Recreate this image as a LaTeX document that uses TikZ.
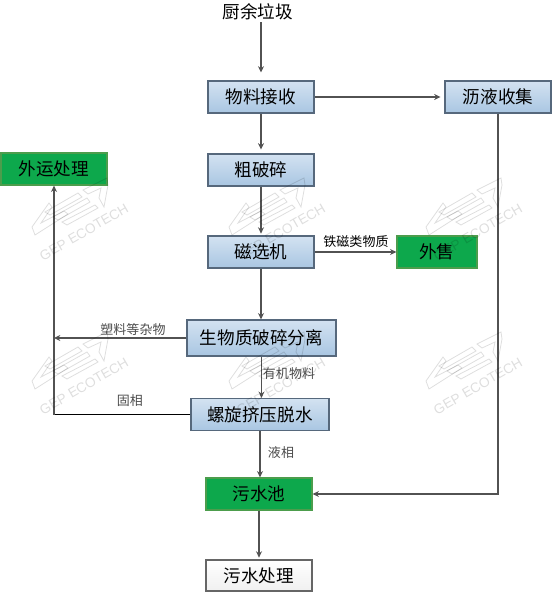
\documentclass[tikz,border=0pt]{standalone}
\usepackage{fontspec}
\setmainfont{Noto Sans CJK SC}
\newfontfamily\markfont{Liberation Sans}
\usetikzlibrary{arrows.meta,shadows}

\begin{document}
\begin{tikzpicture}[
  x=2cm,y=2cm,
  line cap=butt,line join=miter,
  flow/.style={line width=0.65pt,draw=black!68,-{Stealth[length=3.6pt,width=3.4pt]}},
  box/.style={draw=blueEdge,line width=0.7pt,inner sep=0pt,
    minimum width=2.12cm,minimum height=0.64cm,font=\fontsize{10}{12}\selectfont,
    drop shadow={shadow xshift=0.4pt,shadow yshift=-0.4pt,opacity=0.35}},
  bluebox/.style={box,top color=blueTop,bottom color=blueBot},
  greenbox/.style={box,draw=black!55!green!70,fill=greenFill},
  whitebox/.style={box,draw=black!60,top color=white,bottom color=black!6},
  note/.style={font=\fontsize{7.4}{9}\selectfont,text=black!70},
  stampline/.style={line width=0.45pt,draw=black,opacity=0.13}
]
  \definecolor{blueTop}{HTML}{D3E2F1}
  \definecolor{blueBot}{HTML}{A9C6E2}
  \definecolor{blueEdge}{HTML}{56687C}
  \definecolor{greenFill}{HTML}{0DA84C}
  \useasboundingbox (0,0) rectangle (5.54,5.94);

  % Process boxes
  \node[font=\fontsize{10}{12}\selectfont,inner sep=0pt] (source) at (2.58,5.82) {厨余垃圾};
  \node[bluebox] (receive) at (2.61,4.97) {物料接收};
  \node[bluebox] (crush) at (2.61,4.24) {粗破碎};
  \node[bluebox] (magnet) at (2.61,3.42) {磁选机};
  \node[bluebox] (leachate) at (4.98,4.97) {沥液收集};
  \node[greenbox] (haul) at (0.54,4.25) {外运处理};
  \node[greenbox,minimum width=1.6cm] (sale) at (4.37,3.42) {外售};
  \node[bluebox,minimum width=2.98cm,minimum height=0.72cm] (separate) at (2.615,2.56) {生物质破碎分离};
  \node[bluebox,minimum width=2.76cm] (dewater) at (2.60,1.795) {螺旋挤压脱水};
  \node[greenbox] (pool) at (2.59,1.00) {污水池};
  \node[whitebox,minimum height=0.62cm] (treat) at (2.59,0.185) {污水处理};

  % Main line
  \draw[flow,shorten <=1pt,shorten >=4.5pt] (source.south -| receive.north) -- (receive.north);
  \draw[flow,shorten >=2.2pt] (receive) -- (crush);
  \draw[flow,shorten >=1pt] (crush) -- (magnet);
  \draw[flow] (magnet.south) -- (magnet.south |- separate.north);
  \draw[flow] (separate.south) -- (separate.south |- dewater.north);
  \draw[flow] (dewater.south) -- (dewater.south |- pool.north);
  \draw[flow,shorten >=1pt] (pool) -- (treat);

  % Side streams
  \draw[flow,shorten >=2.2pt] (receive) -- (leachate);
  \draw[flow] (magnet) -- (sale);
  \draw[flow] (leachate.south) |- (pool.east);
  \coordinate (corner) at (dewater.west -| haul.south);
  \draw[line width=0.65pt] (dewater.west) -- (corner);
  \draw[flow,line width=0.9pt] (corner) -- (haul.south);
  \draw[flow] (separate.west) -- (separate.west -| haul.south);

  % Labels
  \node[note] (plastic) at (1.33,2.64) {塑料等杂物};
  \node[note] (organic) at (2.89,2.20) {有机物料};
  \node[note] (solid) at (1.30,1.93) {固相};
  \node[note] (liquid) at (2.81,1.41) {液相};
  \node[note,text=black] (iron) at (3.56,3.52) {铁磁类物质};

  % Watermark
  \foreach \px/\py in {0.84/3.62,2.81/3.62,4.78/3.62,0.84/2.08,2.81/2.08,4.78/2.08}{
    \begin{scope}[shift={(\px,\py)}]
      \draw[stampline] (-0.52,0.05) -- (-0.35,0.29) -- (-0.32,0.25) -- (-0.43,0.09)
        -- (-0.20,0.21) -- (-0.16,0.18) -- (-0.49,-0.03) -- cycle;
      \draw[stampline] (-0.39,0.20) -- (-0.06,0.39) -- (-0.02,0.35) -- (-0.34,0.17) -- cycle;
      \draw[stampline] (-0.31,0.15) -- (0.03,0.34) -- (0.06,0.30) -- (-0.26,0.12) -- cycle;
      \draw[stampline] (-0.22,0.10) -- (0.11,0.27) -- (0.14,0.24) -- (-0.17,0.07) -- cycle;
      \draw[stampline] (-0.01,0.42) -- (0.23,0.54) -- (0.24,0.47) -- (0.20,0.25)
        -- (0.15,0.34) -- (0.17,0.44) -- (0.04,0.38) -- cycle;
      \node[rotate=30,text=black,opacity=0.13,font=\markfont\fontsize{7.8}{10}\selectfont] (stamp) at (0,0) {GEP ECOTECH};
    \end{scope}
  }
\end{tikzpicture}
\end{document}
